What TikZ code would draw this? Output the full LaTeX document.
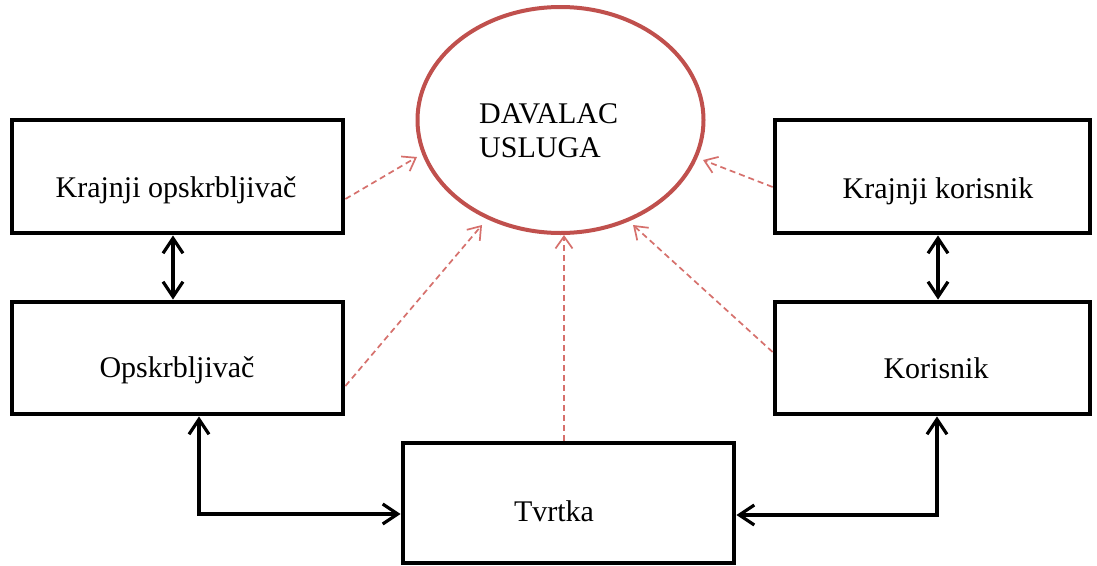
\documentclass[tikz,border=0pt]{standalone}
\usepackage{fontspec}
\setmainfont{Liberation Serif}
\usetikzlibrary{shapes.geometric,arrows.meta}
\definecolor{davred}{RGB}{192,80,77}
\definecolor{dashred}{RGB}{214,112,108}
\begin{document}
\begin{tikzpicture}[x=1pt,y=-1pt,
  box/.style={draw=black,line width=4.8pt,rectangle,inner sep=0pt},
  lbl/.style={inner sep=0pt,anchor=base,font=\fontsize{30}{34}\selectfont},
  biarrow/.style={line width=3.2pt,{Straight Barb[length=15pt,width=20pt,line width=3.2pt]}-{Straight Barb[length=15pt,width=20pt,line width=3.2pt]}},
  rarrow/.style={draw=dashred,line width=1.7pt,dash pattern=on 6pt off 4pt,-{Straight Barb[length=12pt,width=17pt,line width=1.7pt]}}]
\useasboundingbox[fill=white] (0,0) rectangle (1097,565);
% boxes
\node[box,minimum width=331pt,minimum height=113pt] (ko) at (177.5,176.5) {};
\node[box,minimum width=331pt,minimum height=112pt] (o) at (177.5,358) {};
\node[box,minimum width=315pt,minimum height=113pt] (kk) at (932.5,176.5) {};
\node[box,minimum width=315pt,minimum height=112pt] (k) at (932.5,358) {};
\node[box,minimum width=331pt,minimum height=120pt] (tv) at (568.5,503) {};
\node[draw=davred,line width=4pt,ellipse,inner sep=0pt,minimum width=286pt,minimum height=226pt] (dav) at (560.5,120) {};
% labels
\node[lbl] (tko) at (176,197) {Krajnji opskrbljivač};
\node[lbl] (to) at (177,377) {Opskrbljivač};
\node[lbl] (tkk) at (938,198) {Krajnji korisnik};
\node[lbl] (tk) at (936,378) {Korisnik};
\node[lbl] (ttv) at (554,521) {Tvrtka};
\node[inner sep=0pt,anchor=base west,align=left,font=\fontsize{30}{34}\selectfont] (tdav) at (479,157) {DAVALAC\\USLUGA};
% black connectors
\draw[biarrow] ([xshift=-4.5pt]ko.south) -- ([xshift=-4.5pt]o.north);
\draw[biarrow] ([xshift=5.5pt]kk.south) -- ([xshift=5.5pt]k.north);
\draw[biarrow] ([xshift=21.5pt]o.south) |- ([yshift=-11pt]tv.west);
\draw[biarrow] ([xshift=4.5pt]k.south) |- ([yshift=-12pt]tv.east);
% red dashed connectors
\coordinate (e1) at (417,157);
\coordinate (e2) at (482,225);
\coordinate (e3) at (564,235);
\coordinate (e4) at (703,160);
\coordinate (e5) at (633,225);
\draw[rarrow] ([yshift=-22.5pt]ko.east) -- (e1);
\draw[rarrow] ([yshift=-28pt]o.east) -- (e2);
\draw[rarrow] ([xshift=-4.5pt]tv.north) -- (e3);
\draw[rarrow] ([yshift=-10.5pt]kk.west) -- (e4);
\draw[rarrow] ([yshift=6pt]k.west) -- (e5);
\end{tikzpicture}
\end{document}
